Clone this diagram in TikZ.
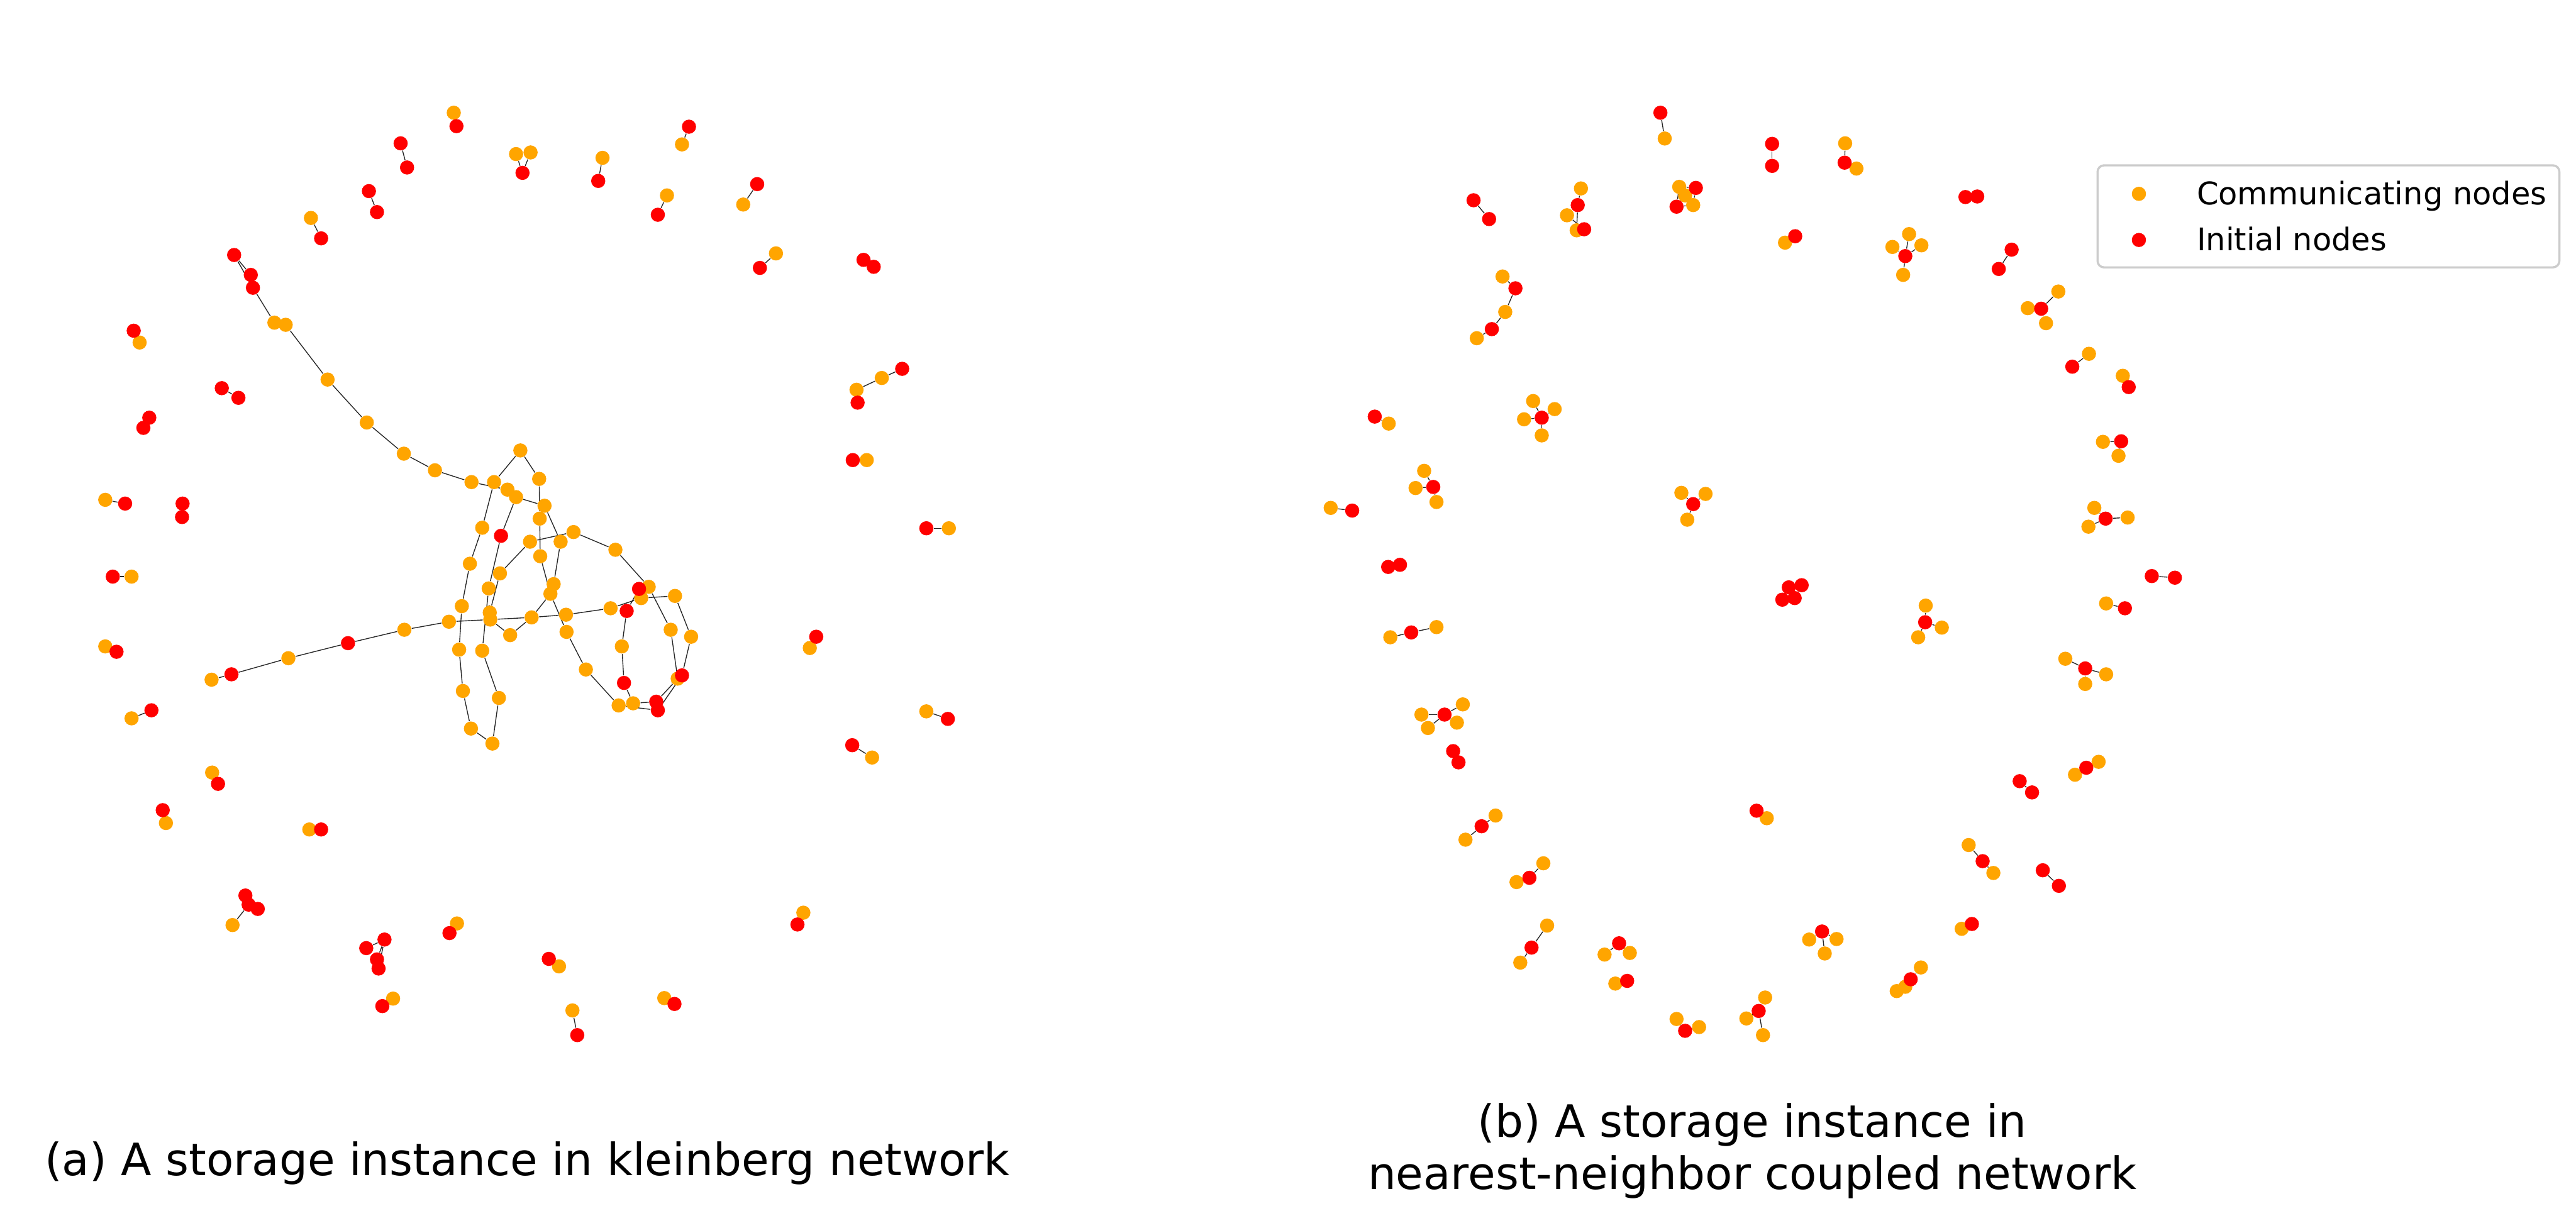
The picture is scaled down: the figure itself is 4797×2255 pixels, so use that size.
\documentclass[tikz,border=0pt]{standalone}
\usepackage{fontspec}
\setmainfont{DejaVu Sans}
\usetikzlibrary{backgrounds}
\definecolor{dotorange}{HTML}{FFA500}
\definecolor{dotred}{HTML}{FF0000}
\tikzset{
  on/.style={circle, fill=dotorange, inner sep=0pt, minimum size=6.6pt},
  rn/.style={circle, fill=dotred, inner sep=0pt, minimum size=6.6pt},
  edge/.style={draw=black!85, line width=0.4pt},
  titletext/.style={font=\fontsize{20.75pt}{25pt}\selectfont, inner sep=0pt},
  legtext/.style={font=\fontsize{14.5pt}{17pt}\selectfont, inner sep=0pt, anchor=base west},
  legbox/.style={draw=black!20, line width=1pt, fill=white, rounded corners=3pt}
}
\begin{document}
\begin{tikzpicture}[x=0.25pt,y=-0.25pt]
\useasboundingbox (0,0) rectangle (4797,2255);
% ================= panel (a) : orange nodes =================
\node[on] (a1) at (752,845) {};
\node[on] (a2) at (810,876) {};
\node[on] (a3) at (878,898) {};
\node[on] (a4) at (920,898) {};
\node[on] (a5) at (945,912) {};
\node[on] (a6) at (961,926) {};
\node[on] (a7) at (969,839) {};
\node[on] (a8) at (1004,892) {};
\node[on] (a9) at (1014,942) {};
\node[on] (a10) at (1005,966) {};
\node[on] (a11) at (898,983) {};
\node[on] (a13) at (987,1009) {};
\node[on] (a14) at (1044,1009) {};
\node[on] (a15) at (1068,991) {};
\node[on] (a16) at (1006,1036) {};
\node[on] (a17) at (1146,1024) {};
\node[on] (a18) at (875,1050) {};
\node[on] (a19) at (931,1068) {};
\node[on] (a20) at (910,1096) {};
\node[on] (a21) at (1031,1088) {};
\node[on] (a22) at (1025,1106) {};
\node[on] (a24) at (1208,1093) {};
\node[on] (a25) at (1194,1114) {};
\node[on] (a26) at (1257,1110) {};
\node[on] (a28) at (1137,1133) {};
\node[on] (a29) at (860,1129) {};
\node[on] (a30) at (912,1141) {};
\node[on] (a31) at (913,1154) {};
\node[on] (a32) at (836,1158) {};
\node[on] (a33) at (990,1150) {};
\node[on] (a34) at (1054,1145) {};
\node[on] (a35) at (950,1183) {};
\node[on] (a36) at (753,1173) {};
\node[on] (a37) at (1055,1177) {};
\node[on] (a38) at (1249,1173) {};
\node[on] (a39) at (1287,1186) {};
\node[on] (a40) at (855,1210) {};
\node[on] (a41) at (898,1212) {};
\node[on] (a42) at (1158,1204) {};
\node[on] (a43) at (1091,1247) {};
\node[on] (a45) at (1262,1264) {};
\node[on] (a47) at (862,1287) {};
\node[on] (a48) at (929,1300) {};
\node[on] (a49) at (1152,1314) {};
\node[on] (a50) at (1179,1310) {};
\node[on] (a53) at (877,1357) {};
\node[on] (a54) at (917,1385) {};
\node[on] (p4) at (511,601) {};
\node[on] (p5) at (532,605) {};
\node[on] (p6) at (610,707) {};
\node[on] (p7) at (683,787) {};
\node[on] (l1) at (394,1266) {};
\node[on] (l3) at (537,1226) {};
\node[on] (t1) at (845,210) {};
\node[on] (t5) at (961,287) {};
\node[on] (t6) at (988,284) {};
\node[on] (t8) at (1122,294) {};
\node[on] (t11) at (1270,269) {};
\node[on] (t14) at (579,406) {};
\node[on] (t16) at (1242,364) {};
\node[on] (t19) at (1384,381) {};
\node[on] (t20) at (1445,472) {};
\node[on] (s2) at (1642,704) {};
\node[on] (s3) at (1595,726) {};
\node[on] (s6) at (1614,857) {};
\node[on] (s8) at (1767,984) {};
\node[on] (s10) at (1508,1207) {};
\node[on] (s11) at (1725,1325) {};
\node[on] (s14) at (1624,1411) {};
\node[on] (s15) at (1496,1700) {};
\node[on] (u1) at (1237,1859) {};
\node[on] (u3) at (1066,1882) {};
\node[on] (u6) at (1041,1800) {};
\node[on] (u7) at (851,1720) {};
\node[on] (u13) at (732,1860) {};
\node[on] (u18) at (433,1723) {};
\node[on] (e1) at (576,1545) {};
\node[on] (e4) at (309,1533) {};
\node[on] (e5) at (395,1439) {};
\node[on] (e7) at (245,1338) {};
\node[on] (e9) at (196,1204) {};
\node[on] (e12) at (245,1074) {};
\node[on] (e13) at (196,931) {};
\node[on] (e22) at (260,638) {};
% ================= panel (a) : red nodes =================
\node[rn] (a12) at (933,998) {};
\node[rn] (a23) at (1190,1097) {};
\node[rn] (a27) at (1167,1138) {};
\node[rn] (a44) at (1162,1272) {};
\node[rn] (a46) at (1270,1258) {};
\node[rn] (a51) at (1222,1307) {};
\node[rn] (a52) at (1225,1323) {};
\node[rn] (p1) at (436,475) {};
\node[rn] (p2) at (467,512) {};
\node[rn] (p3) at (471,536) {};
\node[rn] (l2) at (431,1256) {};
\node[rn] (l4) at (648,1198) {};
\node[rn] (t2) at (850,235) {};
\node[rn] (t3) at (746,267) {};
\node[rn] (t4) at (758,312) {};
\node[rn] (t7) at (973,322) {};
\node[rn] (t9) at (1114,337) {};
\node[rn] (t10) at (1283,236) {};
\node[rn] (t12) at (687,356) {};
\node[rn] (t13) at (702,395) {};
\node[rn] (t15) at (598,444) {};
\node[rn] (t17) at (1225,400) {};
\node[rn] (t18) at (1410,343) {};
\node[rn] (t21) at (1415,499) {};
\node[rn] (t22) at (1608,484) {};
\node[rn] (t23) at (1627,497) {};
\node[rn] (s1) at (1680,687) {};
\node[rn] (s4) at (1597,750) {};
\node[rn] (s5) at (1588,857) {};
\node[rn] (s7) at (1725,984) {};
\node[rn] (s9) at (1520,1186) {};
\node[rn] (s12) at (1765,1339) {};
\node[rn] (s13) at (1587,1388) {};
\node[rn] (s16) at (1485,1722) {};
\node[rn] (u2) at (1256,1870) {};
\node[rn] (u4) at (1075,1928) {};
\node[rn] (u5) at (1022,1786) {};
\node[rn] (u8) at (837,1738) {};
\node[rn] (u9) at (716,1750) {};
\node[rn] (u10) at (682,1766) {};
\node[rn] (u11) at (702,1787) {};
\node[rn] (u12) at (705,1804) {};
\node[rn] (u14) at (712,1874) {};
\node[rn] (u15) at (457,1668) {};
\node[rn] (u16) at (463,1685) {};
\node[rn] (u17) at (480,1693) {};
\node[rn] (e2) at (598,1545) {};
\node[rn] (e3) at (303,1509) {};
\node[rn] (e6) at (406,1460) {};
\node[rn] (e8) at (282,1323) {};
\node[rn] (e10) at (217,1214) {};
\node[rn] (e11) at (210,1074) {};
\node[rn] (e14) at (233,938) {};
\node[rn] (e15) at (340,938) {};
\node[rn] (e16) at (339,963) {};
\node[rn] (e17) at (278,778) {};
\node[rn] (e18) at (267,797) {};
\node[rn] (e19) at (413,723) {};
\node[rn] (e20) at (444,741) {};
\node[rn] (e21) at (249,616) {};
% ================= panel (b) : orange nodes =================
\node[on] (q1a) at (3100,258) {};
\node[on] (q3a) at (3436,267) {};
\node[on] (q3b) at (3457,314) {};
\node[on] (q5a) at (3324,452) {};
\node[on] (q6a) at (3555,436) {};
\node[on] (q6b) at (3524,460) {};
\node[on] (q6c) at (3578,457) {};
\node[on] (q6d) at (3544,512) {};
\node[on] (q8a) at (3833,543) {};
\node[on] (q8b) at (3776,574) {};
\node[on] (q8c) at (3810,602) {};
\node[on] (q9a) at (3890,659) {};
\node[on] (q10a) at (3953,700) {};
\node[on] (q11a) at (3916,823) {};
\node[on] (q11b) at (3945,849) {};
\node[on] (q12a) at (3900,946) {};
\node[on] (q12b) at (3962,964) {};
\node[on] (q12c) at (3889,981) {};
\node[on] (q14a) at (3922,1124) {};
\node[on] (q15a) at (3586,1128) {};
\node[on] (q15b) at (3616,1169) {};
\node[on] (q15c) at (3572,1187) {};
\node[on] (q16a) at (3846,1227) {};
\node[on] (q16b) at (3922,1256) {};
\node[on] (q16c) at (3883,1274) {};
\node[on] (q17a) at (3908,1419) {};
\node[on] (q17b) at (3864,1443) {};
\node[on] (q19a) at (3666,1574) {};
\node[on] (q19b) at (3712,1626) {};
\node[on] (q21a) at (3653,1730) {};
\node[on] (q22a) at (3577,1802) {};
\node[on] (q22b) at (3548,1838) {};
\node[on] (q22c) at (3532,1846) {};
\node[on] (q23a) at (3369,1750) {};
\node[on] (q23b) at (3420,1749) {};
\node[on] (q23c) at (3398,1776) {};
\node[on] (q24a) at (3290,1524) {};
\node[on] (q25a) at (3287,1858) {};
\node[on] (q25b) at (3252,1897) {};
\node[on] (q25c) at (3283,1928) {};
\node[on] (q26a) at (3122,1898) {};
\node[on] (q26b) at (3164,1913) {};
\node[on] (q27a) at (3008,1832) {};
\node[on] (q28a) at (2988,1778) {};
\node[on] (q28b) at (3035,1775) {};
\node[on] (q29a) at (2881,1724) {};
\node[on] (q29b) at (2831,1793) {};
\node[on] (q30a) at (2874,1608) {};
\node[on] (q30b) at (2824,1643) {};
\node[on] (q31a) at (2785,1519) {};
\node[on] (q31b) at (2729,1564) {};
\node[on] (q33a) at (2647,1331) {};
\node[on] (q33b) at (2724,1312) {};
\node[on] (q33c) at (2713,1346) {};
\node[on] (q33d) at (2659,1356) {};
\node[on] (q34a) at (2589,1187) {};
\node[on] (q34b) at (2675,1168) {};
\node[on] (q36a) at (2478,946) {};
\node[on] (q37a) at (2652,877) {};
\node[on] (q37b) at (2636,909) {};
\node[on] (q37c) at (2675,935) {};
\node[on] (q38a) at (2586,789) {};
\node[on] (q39a) at (2855,747) {};
\node[on] (q39b) at (2895,762) {};
\node[on] (q39c) at (2838,781) {};
\node[on] (q39d) at (2871,811) {};
\node[on] (q40a) at (2798,515) {};
\node[on] (q40b) at (2803,581) {};
\node[on] (q40c) at (2750,630) {};
\node[on] (q42a) at (2944,351) {};
\node[on] (q42b) at (2918,401) {};
\node[on] (q42c) at (2936,429) {};
\node[on] (q43a) at (3127,348) {};
\node[on] (q43b) at (3138,364) {};
\node[on] (q43c) at (3153,382) {};
\node[on] (q44a) at (3131,918) {};
\node[on] (q44b) at (3176,920) {};
\node[on] (q44c) at (3142,968) {};
% ================= panel (b) : red nodes =================
\node[rn] (q1r) at (3092,210) {};
\node[rn] (q2r) at (3300,268) {};
\node[rn] (q2s) at (3300,309) {};
\node[rn] (q3r) at (3435,303) {};
\node[rn] (q4r) at (3660,367) {};
\node[rn] (q4s) at (3682,366) {};
\node[rn] (q5r) at (3343,440) {};
\node[rn] (q6r) at (3548,477) {};
\node[rn] (q7r) at (3746,465) {};
\node[rn] (q7s) at (3722,501) {};
\node[rn] (q8r) at (3801,575) {};
\node[rn] (q9r) at (3859,683) {};
\node[rn] (q10r) at (3964,721) {};
\node[rn] (q11r) at (3950,822) {};
\node[rn] (q12r) at (3921,966) {};
\node[rn] (q13r) at (4007,1073) {};
\node[rn] (q13s) at (4050,1076) {};
\node[rn] (q14r) at (3957,1133) {};
\node[rn] (q15r) at (3585,1159) {};
\node[rn] (q16r) at (3883,1245) {};
\node[rn] (q17r) at (3885,1430) {};
\node[rn] (q18r) at (3761,1455) {};
\node[rn] (q18s) at (3784,1476) {};
\node[rn] (q19r) at (3692,1604) {};
\node[rn] (q20r) at (3804,1621) {};
\node[rn] (q20s) at (3834,1650) {};
\node[rn] (q21r) at (3672,1721) {};
\node[rn] (q22r) at (3558,1824) {};
\node[rn] (q23r) at (3393,1735) {};
\node[rn] (q24r) at (3271,1510) {};
\node[rn] (q25r) at (3275,1883) {};
\node[rn] (q26r) at (3138,1920) {};
\node[rn] (q27r) at (3030,1827) {};
\node[rn] (q28r) at (3015,1757) {};
\node[rn] (q29r) at (2852,1765) {};
\node[rn] (q30r) at (2848,1635) {};
\node[rn] (q31r) at (2759,1539) {};
\node[rn] (q32r) at (2706,1399) {};
\node[rn] (q32s) at (2716,1420) {};
\node[rn] (q33r) at (2690,1331) {};
\node[rn] (q34r) at (2628,1178) {};
\node[rn] (q35r) at (2585,1056) {};
\node[rn] (q35s) at (2607,1052) {};
\node[rn] (q36r) at (2518,951) {};
\node[rn] (q37r) at (2669,907) {};
\node[rn] (q38r) at (2560,776) {};
\node[rn] (q39r) at (2871,778) {};
\node[rn] (q40r) at (2822,537) {};
\node[rn] (q40s) at (2778,613) {};
\node[rn] (q41r) at (2744,373) {};
\node[rn] (q41s) at (2773,408) {};
\node[rn] (q42r) at (2938,382) {};
\node[rn] (q42s) at (2950,427) {};
\node[rn] (q43r) at (3158,350) {};
\node[rn] (q43s) at (3122,385) {};
\node[rn] (q44r) at (3153,939) {};
\node[rn] (q45a) at (3331,1094) {};
\node[rn] (q45b) at (3355,1090) {};
\node[rn] (q45c) at (3319,1117) {};
\node[rn] (q45d) at (3342,1114) {};
% ================= edges (behind the dots) =================
\begin{pgfonlayer}{background}
\fill[white] (0,0) rectangle (4797,2255);
\foreach \u/\v in {p1/p2,p1/p3,p3/p4,p4/p5,p5/p6,p6/p7,p7/a1,
  a1/a2,a2/a3,a3/a5,a5/a6,a6/a9,a6/a12,a4/a7,a4/a11,a7/a8,a8/a10,a10/a16,
  a16/a22,a22/a37,a9/a14,a14/a21,a21/a22,a22/a33,a33/a35,a35/a31,a12/a20,
  a20/a41,a19/a13,a19/a30,a13/a15,a15/a17,a17/a24,a24/a38,a38/a45,a26/a39,
  a39/a46,a26/a25,a28/a25,a23/a27,a23/a25,a27/a42,a42/a44,a44/a50,a50/a51,
  a49/a52,a43/a49,a43/a37,a28/a34,a34/a33,a32/a31,a31/a33,a32/a36,a29/a18,
  a18/a11,a29/a40,a40/a47,a47/a53,a53/a54,a54/a48,a48/a41,a30/a31,a51/a45,
  a52/a46,a45/a46,a36/l4,l4/l3,l3/l2,l2/l1,
  t1/t2,t3/t4,t5/t7,t6/t7,t8/t9,t10/t11,t12/t13,t14/t15,t16/t17,t18/t19,
  t20/t21,t22/t23,s1/s2,s2/s3,s3/s4,s5/s6,s7/s8,s9/s10,s11/s12,s13/s14,
  s15/s16,u1/u2,u3/u4,u5/u6,u7/u8,u10/u9,u9/u11,u9/u12,u13/u14,u18/u16,
  u15/u16,u16/u17,e1/e2,e3/e4,e5/e6,e7/e8,e9/e10,e11/e12,e13/e14,e15/e16,
  e17/e18,e19/e20,e21/e22}
  \draw[edge] (\u) -- (\v);
\foreach \u/\v in {q1r/q1a,q2r/q2s,q3r/q3a,q3r/q3b,q4r/q4s,q5r/q5a,
  q6r/q6a,q6r/q6b,q6r/q6c,q6r/q6d,q7r/q7s,q8r/q8a,q8r/q8b,q8r/q8c,q9r/q9a,
  q10r/q10a,q11r/q11a,q11r/q11b,q12r/q12a,q12r/q12b,q12r/q12c,q13r/q13s,
  q14r/q14a,q15r/q15a,q15r/q15b,q15r/q15c,q16r/q16a,q16r/q16b,q16r/q16c,
  q17r/q17a,q17r/q17b,q18r/q18s,q19r/q19a,q19r/q19b,q20r/q20s,q21r/q21a,
  q22r/q22a,q22r/q22b,q22r/q22c,q23r/q23a,q23r/q23b,q23r/q23c,q24r/q24a,
  q25r/q25a,q25r/q25b,q25r/q25c,q26r/q26a,q26r/q26b,q27r/q27a,q28r/q28a,
  q28r/q28b,q29r/q29a,q29r/q29b,q30r/q30a,q30r/q30b,q31r/q31a,q31r/q31b,
  q32r/q32s,q33r/q33a,q33r/q33b,q33r/q33c,q33r/q33d,q34r/q34a,q34r/q34b,
  q35r/q35s,q36r/q36a,q37r/q37a,q37r/q37b,q37r/q37c,q38r/q38a,q39r/q39a,
  q39r/q39b,q39r/q39c,q39r/q39d,q40a/q40r,q40r/q40b,q40b/q40s,q40s/q40c,
  q41r/q41s,q42a/q42r,q42r/q42c,q42b/q42s,q42c/q42s,q43a/q43r,q43a/q43s,
  q43r/q43c,q43s/q43c,q43b/q43s,q44r/q44a,q44r/q44b,q44r/q44c,q45a/q45c,
  q45b/q45d,q45a/q45d}
  \draw[edge] (\u) -- (\v);
\end{pgfonlayer}
% ================= legend =================
\node[legbox, minimum width=215pt, minimum height=47.5pt, anchor=north west] (legend) at (3904,306) {};
\node[on] (legorange) at (3983,361) {};
\node[rn] (legred) at (3983,447) {};
\node[legtext] (legtxt1) at (4090,381) {Communicating nodes};
\node[legtext] (legtxt2) at (4090,467) {Initial nodes};
% ================= titles =================
\node[titletext, anchor=base] (titlea) at (982,2190) {(a) A storage instance in kleinberg network};
\node[titletext, anchor=base] (titleb1) at (3263,2118) {(b) A storage instance in};
\node[titletext, anchor=base] (titleb2) at (3263,2215) {nearest-neighbor coupled network};
\end{tikzpicture}
\end{document}
